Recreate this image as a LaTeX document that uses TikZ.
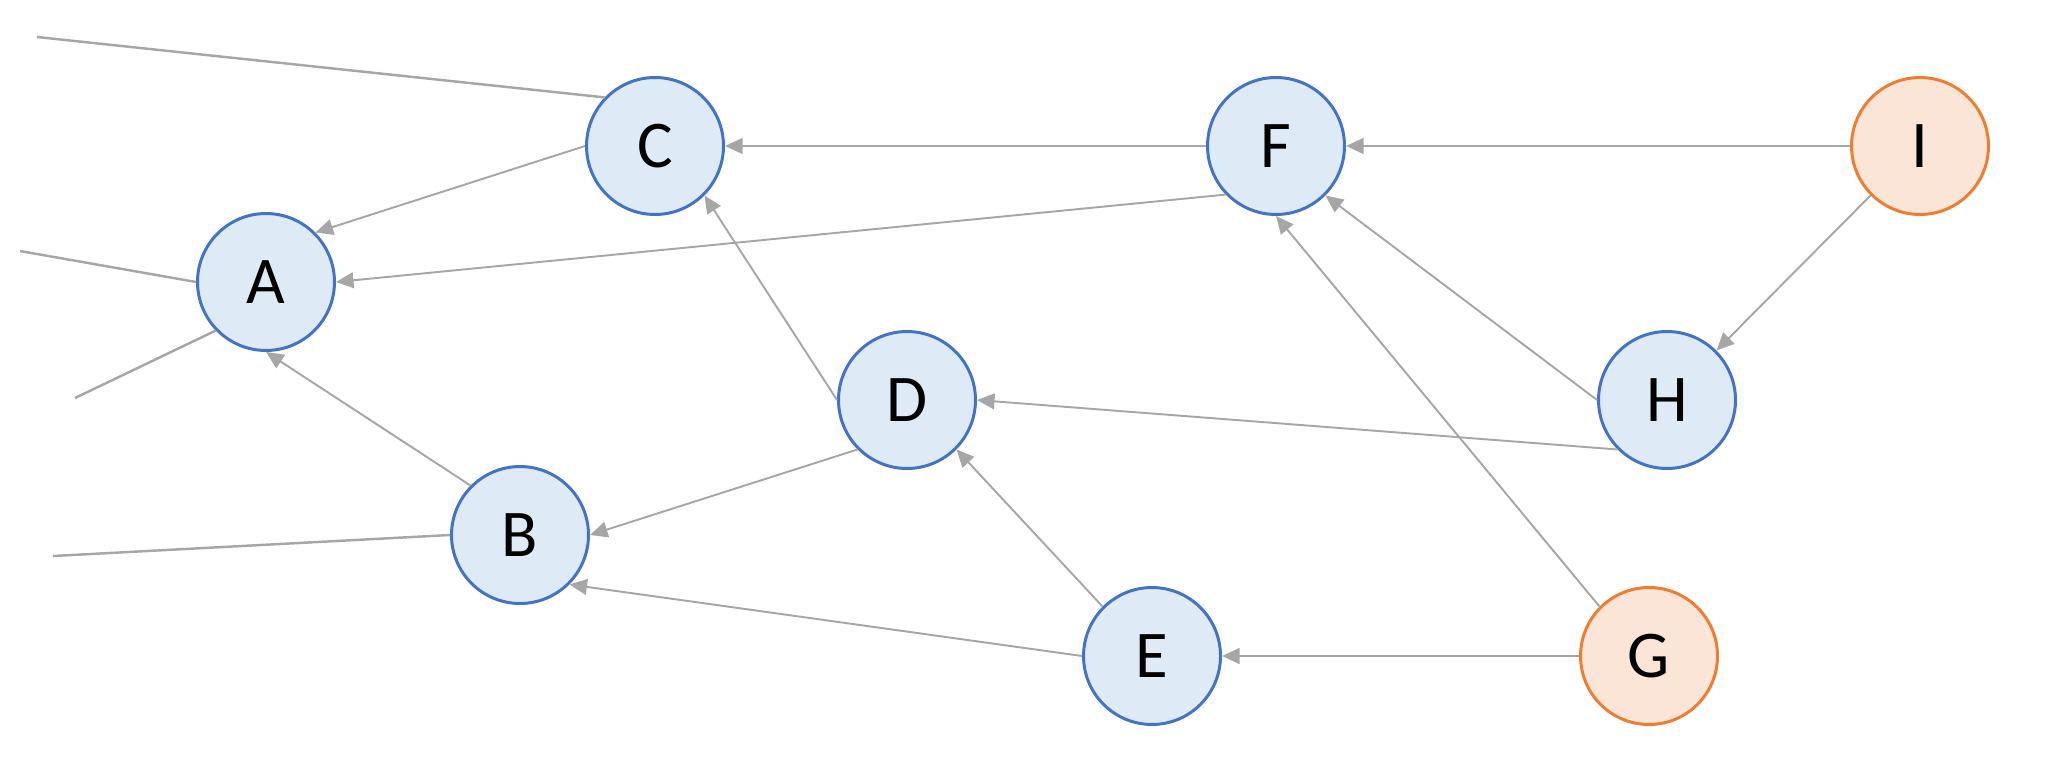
\documentclass[tikz,border=0pt]{standalone}
\usepackage{fontspec}
\setmainfont{Carlito}
\usetikzlibrary{arrows.meta}
\definecolor{bfill}{HTML}{DEEBF7}
\definecolor{bline}{HTML}{4472C4}
\definecolor{ofill}{HTML}{FBE5D6}
\definecolor{oline}{HTML}{ED7D31}
\definecolor{edgegray}{HTML}{A6A6A6}
\tikzset{
  bnode/.style={circle, draw=bline, fill=bfill, line width=1.7pt, minimum size=27.4mm, inner sep=0pt, font=\fontsize{38}{40}\selectfont},
  onode/.style={bnode, draw=oline, fill=ofill},
  arr/.style={draw=edgegray, line width=1.1pt, -{Triangle[length=10pt,width=9pt]}, fill=edgegray},
  free/.style={draw=edgegray, line width=1.4pt}
}
\begin{document}
\begin{tikzpicture}[x=0.02cm, y=-0.02cm]
\useasboundingbox (0,0) rectangle (2048,784);
\node[bnode] (A) at (266,282) {A};
\node[bnode] (B) at (520,535) {B};
\node[bnode] (C) at (655,146) {C};
\node[bnode] (D) at (907,400) {D};
\node[bnode] (E) at (1152,656) {E};
\node[bnode] (F) at (1276,146) {F};
\node[onode] (G) at (1649,656) {G};
\node[bnode] (H) at (1667,400) {H};
\node[onode] (I) at (1920,146) {I};
\coordinate (p1) at (37,37);
\coordinate (p2) at (20,251);
\coordinate (p3) at (75,398);
\coordinate (p4) at (53,556);
\draw[free] (p1) -- (C.136);
\draw[free] (p2) -- (A.west);
\draw[free] (p3) -- (A.224);
\draw[free] (p4) -- (B.west);
\draw[arr] (F.west) -- (C.east);
\draw[arr] (I.west) -- (F.east);
\draw[arr] (C.west) -- (A.45);
\draw[arr] (F.224) -- (A.east);
\draw[arr] (B.135) -- (A.south);
\draw[arr] (D.west) -- (C.315);
\draw[arr] (D.225) -- (B.east);
\draw[arr] (E.west) -- (B.315);
\draw[arr] (E.135) -- (D.315);
\draw[arr] (G.west) -- (E.east);
\draw[arr] (G.135) -- (F.south);
\draw[arr] (H.west) -- (F.315);
\draw[arr] (H.225) -- (D.east);
\draw[arr] (I.225) -- (H.45);
\end{tikzpicture}
\end{document}
